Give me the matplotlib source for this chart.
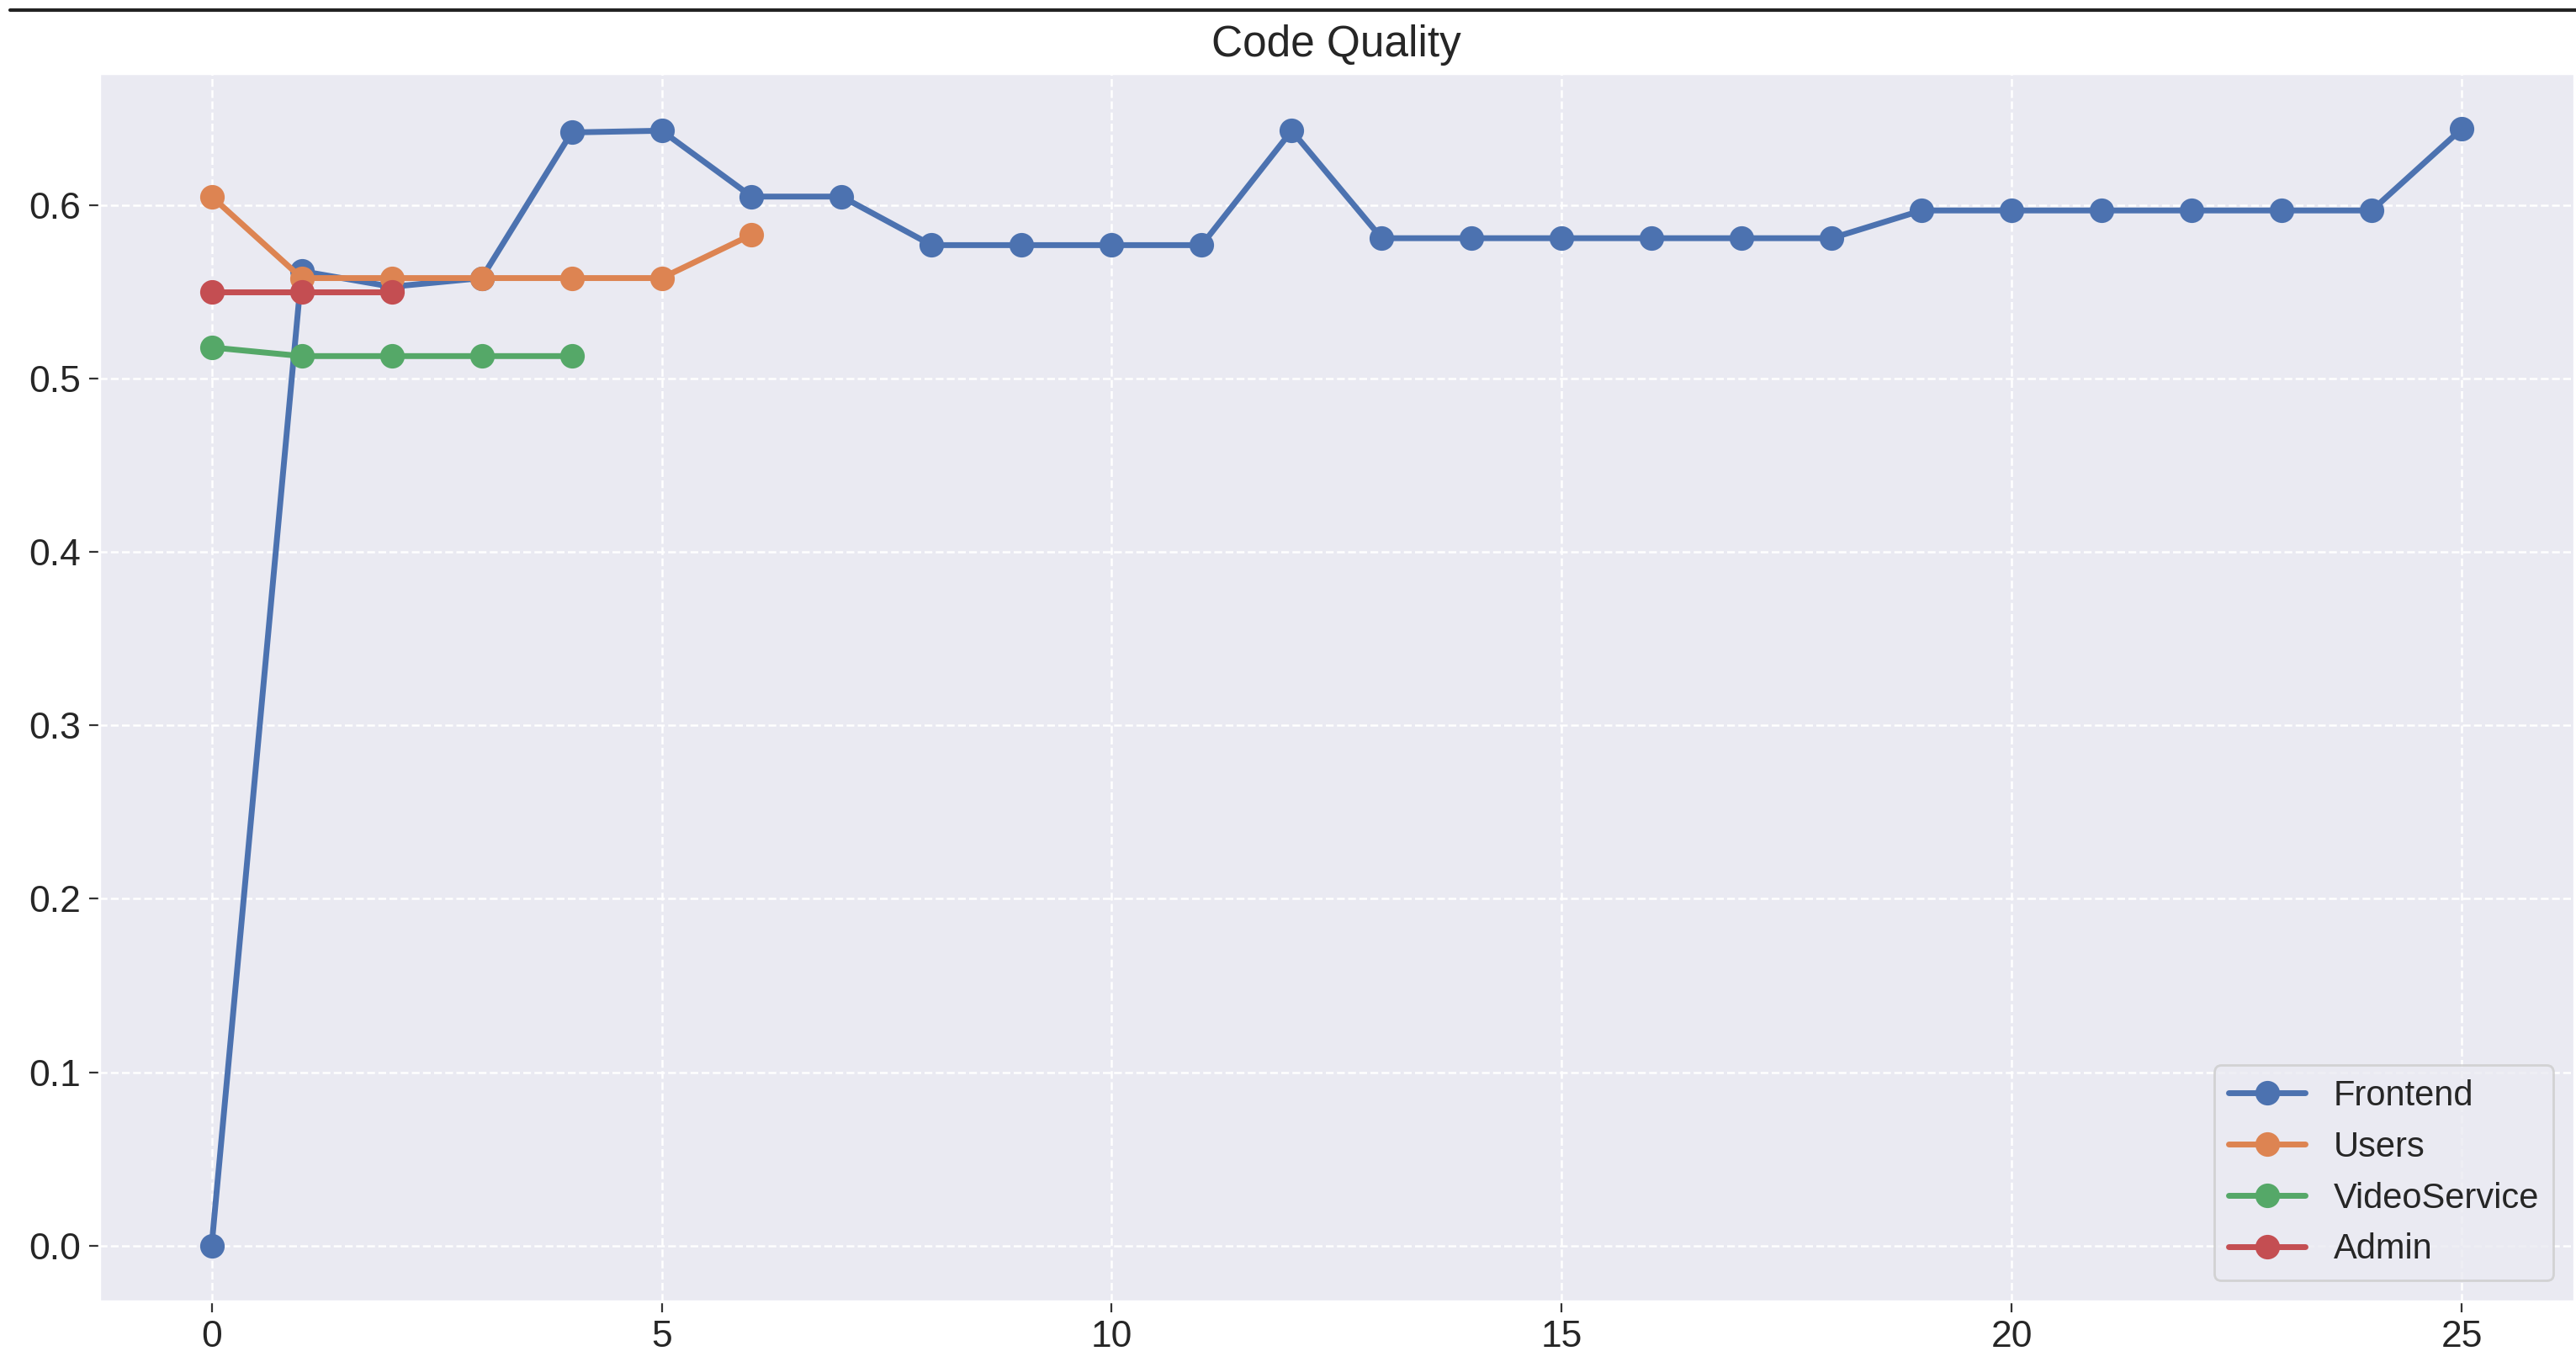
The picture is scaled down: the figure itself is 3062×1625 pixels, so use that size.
import matplotlib
matplotlib.use("Agg")
import matplotlib.pyplot as plt
from matplotlib.lines import Line2D
import seaborn as sns

# values
frontend_x = list(range(26))
frontend_y = [0.0, 0.562, 0.553, 0.558, 0.642, 0.643, 0.605, 0.605,
              0.577, 0.577, 0.577, 0.577, 0.643,
              0.581, 0.581, 0.581, 0.581, 0.581, 0.581,
              0.597, 0.597, 0.597, 0.597, 0.597, 0.597, 0.644]
users_x = list(range(7))
users_y = [0.605, 0.558, 0.558, 0.558, 0.558, 0.558, 0.583]
video_x = list(range(5))
video_y = [0.518, 0.513, 0.513, 0.513, 0.513]
admin_x = list(range(3))
admin_y = [0.550, 0.550, 0.550]

series = [
    ("Frontend", frontend_x, frontend_y),
    ("Users", users_x, users_y),
    ("VideoService", video_x, video_y),
    ("Admin", admin_x, admin_y),
]

sns.set_theme(style="darkgrid")
plt.rcParams["font.family"] = ["Liberation Sans", "DejaVu Sans"]
plt.rcParams["grid.linestyle"] = "--"
plt.rcParams["grid.linewidth"] = 0.9
plt.rcParams["xtick.bottom"] = True
plt.rcParams["ytick.left"] = True
plt.rcParams["xtick.color"] = "#333333"
plt.rcParams["ytick.color"] = "#333333"
plt.rcParams["xtick.major.size"] = 4.5
plt.rcParams["ytick.major.size"] = 4.5
plt.rcParams["xtick.major.width"] = 0.8
plt.rcParams["ytick.major.width"] = 0.8

colors = sns.color_palette("deep")

fig = plt.figure(figsize=(15.31, 8.125), dpi=200)
ax = fig.add_axes([0.0385, 0.048, 0.9608, 0.8985])

for i, (name, xs, ys) in enumerate(series):
    ax.plot(xs, ys, marker="o", markersize=9.5, linewidth=2.5,
            color=colors[i], label=name)

ax.set_title("Code Quality", fontsize=18.5, color="#262626", pad=7)
ax.tick_params(axis="both", labelsize=16, labelcolor="#262626")
ax.set_xticks([0, 5, 10, 15, 20, 25])

leg = ax.legend(loc="lower right", fontsize=15, frameon=True,
                borderaxespad=0.6, handlelength=2.2)
leg.get_frame().set_facecolor("#EAEAF2")
leg.get_frame().set_edgecolor("#CCCCCC")

# dark rule across the top of the screenshot
fig.add_artist(Line2D([0.004, 1.0], [0.9925, 0.9925], transform=fig.transFigure,
                      color="#222222", linewidth=1.5))

fig.savefig("out.png", dpi=200)
